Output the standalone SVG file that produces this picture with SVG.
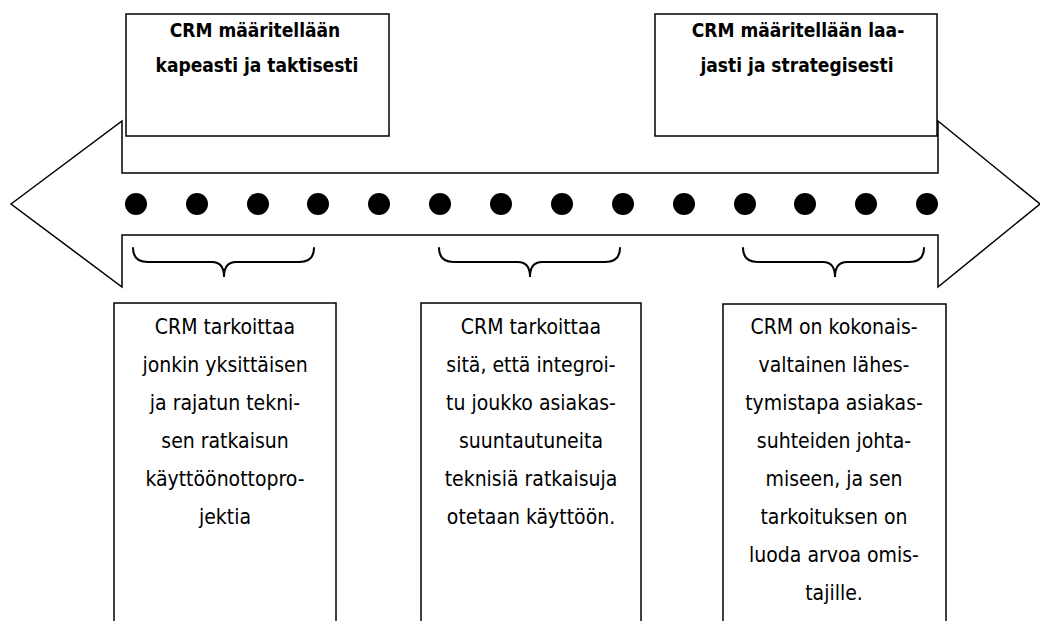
<svg xmlns="http://www.w3.org/2000/svg" width="1040" height="621" viewBox="0 0 1040 621">
  <style>
    .box { fill: #ffffff; stroke: #000000; stroke-width: 1.5; }
    .arrow { fill: #ffffff; stroke: #000000; stroke-width: 1.5; stroke-linejoin: miter; }
    .brace { fill: none; stroke: #000000; stroke-width: 2; stroke-linecap: round; }
    .dot { fill: #000000; }
    .title { font-family: "DejaVu Sans Condensed", Lato, sans-serif; font-stretch: condensed; font-weight: bold; font-size: 19px; fill: #000000; text-anchor: middle; }
    .body { font-family: "DejaVu Sans Condensed", Lato, sans-serif; font-stretch: condensed; font-size: 21px; fill: #000000; text-anchor: middle; }
  </style>

  <!-- double-headed timeline arrow with markers -->
  <g id="connectors">
    <polygon class="arrow" points="11,204 122,121 122,173 938,173 938,121 1040,204 938,287 938,235 122,235 122,287"/>
    <g id="dots">
      <circle class="dot" cx="136" cy="204" r="11"/>
      <circle class="dot" cx="197" cy="204" r="11"/>
      <circle class="dot" cx="258" cy="204" r="11"/>
      <circle class="dot" cx="318" cy="204" r="11"/>
      <circle class="dot" cx="379" cy="204" r="11"/>
      <circle class="dot" cx="440" cy="204" r="11"/>
      <circle class="dot" cx="501" cy="204" r="11"/>
      <circle class="dot" cx="562" cy="204" r="11"/>
      <circle class="dot" cx="623" cy="204" r="11"/>
      <circle class="dot" cx="684" cy="204" r="11"/>
      <circle class="dot" cx="745" cy="204" r="11"/>
      <circle class="dot" cx="805" cy="204" r="11"/>
      <circle class="dot" cx="866" cy="204" r="11"/>
      <circle class="dot" cx="927" cy="204" r="11"/>
    </g>
    <path class="brace" d="M133,248 Q133,262 148,262 L212,262 Q224,262 224,277 Q224,262 236,262 L299,262 Q314,262 314,248"/>
    <path class="brace" d="M439,248 Q439,262 454,262 L518,262 Q530,262 530,277 Q530,262 542,262 L605,262 Q620,262 620,248"/>
    <path class="brace" d="M743,248 Q743,262 758,262 L823,262 Q835,262 835,277 Q835,262 847,262 L909,262 Q924,262 924,248"/>
  </g>

  <g id="narrow">
    <rect class="box" x="126" y="14" width="263" height="122"/>
    <text class="title" x="255" y="37">CRM määritellään</text>
    <text class="title" x="257" y="72">kapeasti ja taktisesti</text>
  </g>

  <g id="broad">
    <rect class="box" x="655" y="14" width="282" height="122"/>
    <text class="title" x="798" y="37">CRM määritellään laa-</text>
    <text class="title" x="797" y="72">jasti ja strategisesti</text>
  </g>

  <g id="single-solution">
    <rect class="box" x="114" y="303" width="222" height="340"/>
    <text class="body" x="225" y="334">CRM tarkoittaa</text>
    <text class="body" x="225" y="372">jonkin yksittäisen</text>
    <text class="body" x="225" y="410">ja rajatun tekni-</text>
    <text class="body" x="225" y="448">sen ratkaisun</text>
    <text class="body" x="225" y="486">käyttöönottopro-</text>
    <text class="body" x="225" y="524">jektia</text>
  </g>

  <g id="integrated-solutions">
    <rect class="box" x="421" y="303" width="220" height="340"/>
    <text class="body" x="531" y="334">CRM tarkoittaa</text>
    <text class="body" x="531" y="372">sitä, että integroi-</text>
    <text class="body" x="531" y="410">tu joukko asiakas-</text>
    <text class="body" x="531" y="448">suuntautuneita</text>
    <text class="body" x="531" y="486">teknisiä ratkaisuja</text>
    <text class="body" x="531" y="524">otetaan käyttöön.</text>
  </g>

  <g id="holistic-approach">
    <rect class="box" x="723" y="304" width="223" height="340"/>
    <text class="body" x="834" y="334">CRM on kokonais-</text>
    <text class="body" x="834" y="372">valtainen lähes-</text>
    <text class="body" x="834" y="410">tymistapa asiakas-</text>
    <text class="body" x="834" y="448">suhteiden johta-</text>
    <text class="body" x="834" y="486">miseen, ja sen</text>
    <text class="body" x="834" y="524">tarkoituksen on</text>
    <text class="body" x="834" y="562">luoda arvoa omis-</text>
    <text class="body" x="834" y="600">tajille.</text>
  </g>
</svg>
